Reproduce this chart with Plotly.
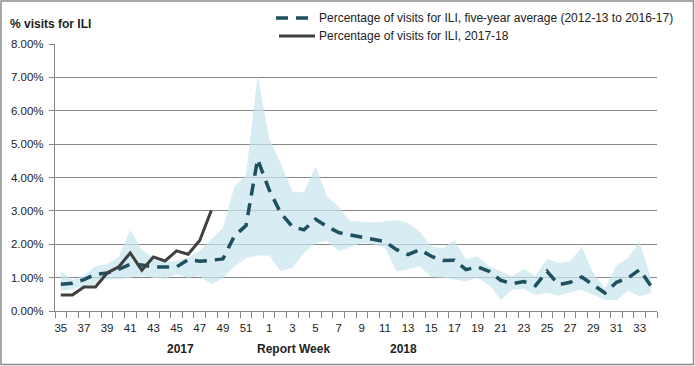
import plotly.graph_objects as go

weeks = list(range(35, 53)) + list(range(1, 35))

avg_5yr = [0.80, 0.83, 0.94, 1.10, 1.14, 1.25, 1.40, 1.38, 1.32, 1.31, 1.32, 1.54, 1.49, 1.52, 1.56,
           2.25, 2.56, 4.55, 3.63, 2.93, 2.53, 2.43, 2.75, 2.53, 2.35, 2.28, 2.21, 2.15, 2.08,
           1.84, 1.69, 1.84, 1.64, 1.51, 1.52, 1.24, 1.32, 1.19, 0.92, 0.82, 0.88, 0.76, 1.19,
           0.79, 0.86, 1.02, 0.79, 0.54, 0.86, 0.99, 1.24, 0.74]
band_upper = [1.19, 0.94, 1.06, 1.34, 1.41, 1.62, 2.43, 1.84, 1.59, 1.49, 1.50, 1.60, 1.80, 2.13, 2.49,
              3.73, 4.07, 7.06, 5.17, 4.42, 3.58, 3.55, 4.34, 3.43, 3.13, 2.68, 2.68, 2.65, 2.68,
              2.73, 2.63, 2.38, 1.93, 1.88, 2.13, 1.54, 1.64, 1.34, 1.19, 1.04, 1.26, 1.04, 1.56,
              1.44, 1.49, 1.92, 1.14, 0.69, 1.36, 1.59, 2.08, 0.95]
band_lower = [0.59, 0.65, 0.75, 0.80, 0.95, 0.95, 1.00, 1.05, 1.00, 0.95, 1.10, 1.00, 1.05, 0.80, 0.99,
              1.34, 1.59, 1.66, 1.66, 1.19, 1.29, 1.74, 2.04, 2.10, 1.79, 1.92, 2.04, 2.00, 1.89,
              1.19, 1.24, 1.34, 1.02, 1.00, 0.94, 0.89, 1.00, 0.79, 0.34, 0.64, 0.66, 0.49, 0.54,
              0.46, 0.56, 0.64, 0.49, 0.34, 0.32, 0.61, 0.44, 0.54]
season_2017_18 = [0.48, 0.48, 0.72, 0.72, 1.14, 1.32, 1.74, 1.22, 1.62, 1.50, 1.80, 1.70, 2.11, 3.01]

y_ticks = [0, 1, 2, 3, 4, 5, 6, 7, 8]
period_labels = ["2017", "Report Week", "2018"]
legend_names = ["Percentage of visits for ILI, five-year average (2012-13 to 2016-17)",
                "Percentage of visits for ILI, 2017-18"]

idx = list(range(len(weeks)))
pct = lambda arr: [v / 100 for v in arr]

FONT = "Liberation Sans"
AVG_COLOR, AVG_DASH, AVG_W = "#1f5060", "12px,8px", 3.5
CUR_COLOR, CUR_W = "#404040", 3

fig = go.Figure()
fig.add_trace(go.Scatter(x=idx, y=pct(band_lower), mode="lines", line=dict(width=0),
                         showlegend=False, hoverinfo="skip"))
fig.add_trace(go.Scatter(x=idx, y=pct(band_upper), mode="lines", line=dict(width=0),
                         fill="tonexty", fillcolor="rgba(198,228,238,0.7)",
                         showlegend=False, hoverinfo="skip"))
fig.add_trace(go.Scatter(x=idx, y=pct(avg_5yr), mode="lines", name=legend_names[0],
                         showlegend=False,
                         line=dict(color=AVG_COLOR, width=AVG_W, dash=AVG_DASH)))
fig.add_trace(go.Scatter(x=idx[:len(season_2017_18)], y=pct(season_2017_18), mode="lines",
                         name=legend_names[1], showlegend=False,
                         line=dict(color=CUR_COLOR, width=CUR_W)))

L, R, T, B = 55, 38, 44, 55
W, H = 695, 366
pw, ph = W - L - R, H - T - B
px2x = lambda px: (px - L) / pw
py2y = lambda py: 1 + (T - py) / ph

label_idx = idx[::2]
fig.update_layout(
    width=W, height=H,
    margin=dict(l=L, r=R, t=T, b=B),
    paper_bgcolor="white", plot_bgcolor="white",
    font=dict(family=FONT, size=11, color="#222222"),
    showlegend=False,
    xaxis=dict(range=[-0.5, len(weeks) - 0.5], tickmode="array", tickvals=label_idx,
               ticktext=[str(weeks[i]) for i in label_idx], ticks="", showgrid=False,
               zeroline=False, showline=True, linecolor="#868686", linewidth=1.3,
               tickfont=dict(size=11.5, color="#222222"), ticklabelstandoff=6),
    xaxis2=dict(range=[-0.5, len(weeks) - 0.5], overlaying="x", side="bottom",
                tickmode="array", tickvals=[i - 0.5 for i in idx] + [len(weeks) - 0.5],
                ticks="outside", ticklen=6, tickcolor="#868686", tickwidth=1.3,
                showticklabels=False, showgrid=False, zeroline=False, showline=False),
    yaxis=dict(range=[0, 0.08], tickmode="array", tickvals=pct(y_ticks), tickformat=".2%",
               ticks="outside", ticklen=5, tickcolor="#868686", tickwidth=1.3,
               showgrid=True, gridcolor="#868686", gridwidth=1.3, zeroline=False,
               showline=True, linecolor="#868686", linewidth=1.3,
               tickfont=dict(size=11.5, color="#222222"), ticklabelstandoff=3),
)
fig.add_trace(go.Scatter(x=[0], y=[None], xaxis="x2", showlegend=False, hoverinfo="skip"))

# legend drawn manually (keys + text)
legend_rows = [(legend_names[0], 18, 276, 312, dict(color=AVG_COLOR, width=AVG_W, dash=AVG_DASH)),
               (legend_names[1], 36, 279, 315, dict(color=CUR_COLOR, width=CUR_W))]
for name, py, kx0, kx1, ln in legend_rows:
    fig.add_shape(type="line", xref="paper", yref="paper", x0=px2x(kx0), x1=px2x(kx1),
                  y0=py2y(py), y1=py2y(py), line=ln, layer="above")
    fig.add_annotation(text=name, xref="paper", yref="paper", x=px2x(317), y=py2y(py),
                       xanchor="left", yanchor="middle", showarrow=False,
                       font=dict(size=12, color="#222222"))

fig.add_annotation(text="<b>% visits for ILI</b>", xref="paper", yref="paper",
                   x=px2x(8), y=py2y(24), xanchor="left", yanchor="middle",
                   showarrow=False, font=dict(size=12, color="#222222"))
for lbl, px in zip(period_labels, [180, 293, 403]):
    fig.add_annotation(text="<b>" + lbl + "</b>", xref="paper", yref="paper",
                       x=px2x(px), y=py2y(349), xanchor="center",
                       yanchor="middle", showarrow=False, font=dict(size=12, color="#222222"))

fig.add_shape(type="rect", xref="paper", yref="paper",
              x0=px2x(1), x1=px2x(W - 1.5), y0=py2y(H - 1.5), y1=py2y(1),
              line=dict(color="#8c8c8c", width=1.5), fillcolor="rgba(0,0,0,0)", layer="above")

fig.write_html("out.html", config={"displayModeBar": False},
               post_script="document.body.style.margin='0px';")
